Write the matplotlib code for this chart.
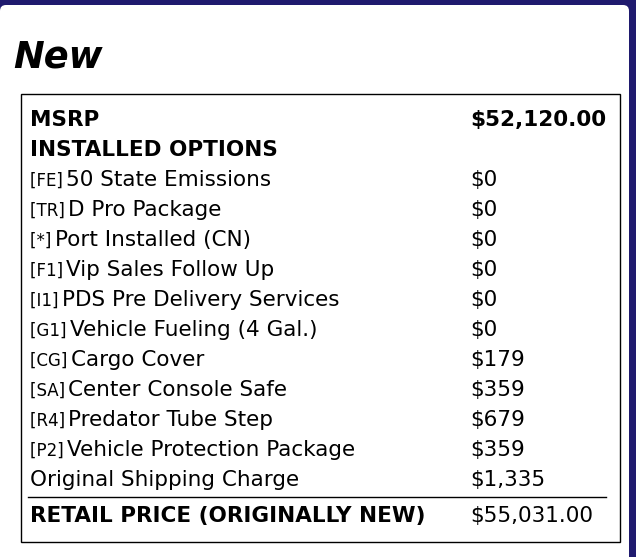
import matplotlib
matplotlib.use("Agg")
import matplotlib.pyplot as plt
from matplotlib.patches import Rectangle, FancyBboxPatch
from matplotlib.lines import Line2D

title = "New"
msrp_label = "MSRP"
msrp_value = "$52,120.00"
section_label = "INSTALLED OPTIONS"
codes = ["[FE]", "[TR]", "[*]", "[F1]", "[I1]", "[G1]", "[CG]", "[SA]", "[R4]", "[P2]", ""]
names = ["50 State Emissions", "D Pro Package", "Port Installed (CN)", "Vip Sales Follow Up",
         "PDS Pre Delivery Services", "Vehicle Fueling (4 Gal.)", "Cargo Cover",
         "Center Console Safe", "Predator Tube Step", "Vehicle Protection Package",
         "Original Shipping Charge"]
prices = ["$0", "$0", "$0", "$0", "$0", "$0", "$179", "$359", "$679", "$359", "$1,335"]
total_label = "RETAIL PRICE (ORIGINALLY NEW)"
total_value = "$55,031.00"

W, H = 636, 557
fig = plt.figure(figsize=(W/100, H/100), dpi=100)
fig.patch.set_facecolor("#1f1a6e")
ax = fig.add_axes([0, 0, 1, 1])
ax.set_xlim(0, W); ax.set_ylim(H, 0); ax.axis("off")

ax.add_patch(FancyBboxPatch((0, 5), 629, 560, boxstyle="round,pad=0,rounding_size=6",
                            facecolor="white", edgecolor="none"))
ax.add_patch(Rectangle((20.5, 93.5), 599, 448, facecolor="none", edgecolor="black", lw=1))

ax.text(13, 57, title, fontsize=26.5, fontweight="bold", fontstyle="italic", va="center", ha="left")

fs = 15.5
lx, rx = 30, 470
ax.text(lx, 120, msrp_label, fontsize=fs, fontweight="bold", va="center")
ax.text(rx, 120, msrp_value, fontsize=fs, fontweight="bold", va="center")
ax.text(lx, 150, section_label, fontsize=fs, fontweight="bold", va="center")

y = 180
for c, n, p in zip(codes, names, prices):
    if c:
        t = ax.text(lx, y + 1, c + " ", fontsize=12, va="center")
        fig.canvas.draw()
        bb = t.get_window_extent()
        ax.text(bb.x1 - 2, y, n, fontsize=fs, va="center")
    else:
        ax.text(lx, y, n, fontsize=fs, va="center")
    ax.text(rx, y, p, fontsize=fs, va="center")
    y += 30

ax.add_line(Line2D([28, 606], [496.5, 496.5], color="black", lw=1))
ax.text(lx, 516, total_label, fontsize=fs, fontweight="bold", va="center")
ax.text(rx, 516, total_value, fontsize=fs, va="center")

fig.savefig("out.png", dpi=100, facecolor=fig.get_facecolor())
